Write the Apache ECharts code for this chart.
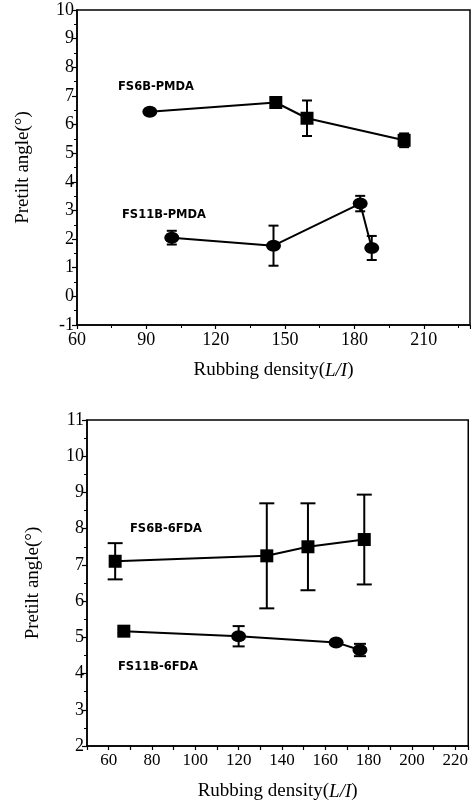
<!DOCTYPE html>
<html>
<head>
<meta charset="utf-8">
<script src="https://cdn.jsdelivr.net/npm/echarts@6/dist/echarts.min.js"></script>
<style>
  html, body { margin: 0; padding: 0; background: #fff; }
  #chart { width: 471px; height: 804px; }
</style>
</head>
<body>
<div id="chart"></div>
<script>
// Rubbing density (L/I) vs pretilt angle (deg), with standard deviation
const pmdaYTicks = [-1, 0, 1, 2, 3, 4, 5, 6, 7, 8, 9, 10];
const pmdaXTicks = [60, 90, 120, 150, 180, 210];
const fdaYTicks = [2, 3, 4, 5, 6, 7, 8, 9, 10, 11];
const fdaXTicks = [60, 80, 100, 120, 140, 160, 180, 200, 220];

const fs6bPmdaX = [91.5, 146, 159.5, 201.5];
const fs6bPmdaY = [6.45, 6.77, 6.22, 5.45];
const fs6bPmdaErr = [0.1, 0.15, 0.62, 0.24];

const fs11bPmdaX = [101, 145, 182.5, 187.5];
const fs11bPmdaY = [2.05, 1.77, 3.24, 1.69];
const fs11bPmdaErr = [0.24, 0.7, 0.27, 0.42];

const fs6bFdaX = [63, 133, 152, 178];
const fs6bFdaY = [7.1, 7.25, 7.5, 7.7];
const fs6bFdaErr = [0.5, 1.45, 1.2, 1.24];

const fs11bFdaX = [67, 120, 165, 176];
const fs11bFdaY = [5.17, 5.03, 4.86, 4.65];
const fs11bFdaErr = [0.05, 0.28, 0.05, 0.17];

const serif = '"Liberation Serif", "Times New Roman", serif';

function points(xs, ys) { return xs.map((x, i) => [x, ys[i]]); }
function errData(xs, ys, es) { return xs.map((x, i) => [x, ys[i], es[i]]); }

function errorBars(gridIdx, data, cap) {
  return {
    type: 'custom',
    xAxisIndex: gridIdx, yAxisIndex: gridIdx,
    data: data,
    encode: { x: 0, y: 1 },
    z: 2,
    silent: true,
    renderItem: function (params, api) {
      const x = api.value(0), y = api.value(1), e = api.value(2);
      const hi = api.coord([x, y + e]);
      const lo = api.coord([x, y - e]);
      const st = { stroke: '#000', lineWidth: 2 };
      return {
        type: 'group',
        children: [
          { type: 'line', shape: { x1: hi[0], y1: hi[1], x2: lo[0], y2: lo[1] }, style: st },
          { type: 'line', shape: { x1: hi[0] - cap / 2, y1: hi[1], x2: hi[0] + cap / 2, y2: hi[1] }, style: st },
          { type: 'line', shape: { x1: lo[0] - cap / 2, y1: lo[1], x2: lo[0] + cap / 2, y2: lo[1] }, style: st }
        ]
      };
    }
  };
}

function lineSeries(gridIdx, data, symbols) {
  return {
    type: 'line',
    xAxisIndex: gridIdx, yAxisIndex: gridIdx,
    data: data.map((d, i) => ({
      value: d,
      symbol: symbols[i] === 'sq' ? 'rect' : 'circle',
      symbolSize: symbols[i] === 'sq' ? 13 : [15, 12]
    })),
    showSymbol: true,
    z: 3,
    lineStyle: { color: '#000', width: 2 },
    itemStyle: { color: '#000', borderWidth: 0 },
    silent: true,
    animation: false
  };
}

function xAxisCfg(gridIdx, min, max, interval, ticks, fontSize) {
  return {
    type: 'value', gridIndex: gridIdx, min: min, max: max, interval: interval,
    name: '{n|Rubbing density(}{i|L/I}{n|)}',
    nameLocation: 'middle', nameGap: 36,
    nameTextStyle: {
      rich: {
        n: { fontFamily: serif, fontSize: 19, color: '#000' },
        i: { fontFamily: serif, fontSize: 19, fontStyle: 'italic', color: '#000' }
      }
    },
    axisLine: { show: true, onZero: false, lineStyle: { color: '#000', width: 1.5 } },
    axisTick: { show: true, inside: false, length: 4, lineStyle: { color: '#000', width: 1.2 } },
    minorTick: { show: interval > 10, splitNumber: 2, length: 3, lineStyle: { color: '#000', width: 1 } },
    splitLine: { show: false },
    axisLabel: {
      fontFamily: serif, fontSize: fontSize, color: '#000', margin: 6,
      customValues: ticks
    }
  };
}

function yAxisCfg(gridIdx, min, max, gap) {
  return {
    type: 'value', gridIndex: gridIdx, min: min, max: max, interval: 1,
    name: 'Pretilt angle(°)',
    nameLocation: 'middle', nameRotate: 90, nameGap: gap,
    nameTextStyle: { fontFamily: serif, fontSize: 19, color: '#000' },
    axisLine: { show: true, onZero: false, lineStyle: { color: '#000', width: 1.5 } },
    axisTick: { show: true, inside: false, length: 5, lineStyle: { color: '#000', width: 1.2 } },
    minorTick: { show: true, splitNumber: 2, length: 3, lineStyle: { color: '#000', width: 1 } },
    splitLine: { show: false },
    axisLabel: { fontFamily: serif, fontSize: 18, color: '#000', margin: 3 }
  };
}

const labelFont = 'bold 11.5px "DejaVu Sans", Arial, sans-serif';

const chart = echarts.init(document.getElementById('chart'), null, { renderer: 'canvas' });
chart.setOption({
  backgroundColor: '#fff',
  animation: false,
  grid: [
    { left: 77, top: 10, width: 393, height: 315, show: true, borderColor: '#000', borderWidth: 1.5, backgroundColor: 'transparent' },
    { left: 87, top: 420, width: 382, height: 326, show: true, borderColor: '#000', borderWidth: 1.5, backgroundColor: 'transparent' }
  ],
  xAxis: [
    xAxisCfg(0, pmdaXTicks[0], 230, 30, pmdaXTicks, 18),
    xAxisCfg(1, 50, 226, 10, fdaXTicks, 17)
  ],
  yAxis: [
    yAxisCfg(0, pmdaYTicks[0], pmdaYTicks[pmdaYTicks.length - 1], 44),
    yAxisCfg(1, fdaYTicks[0], fdaYTicks[fdaYTicks.length - 1], 44)
  ],
  series: [
    errorBars(0, errData(fs6bPmdaX, fs6bPmdaY, fs6bPmdaErr), 10),
    errorBars(0, errData(fs11bPmdaX, fs11bPmdaY, fs11bPmdaErr), 10),
    errorBars(1, errData(fs6bFdaX, fs6bFdaY, fs6bFdaErr), 15),
    errorBars(1, errData(fs11bFdaX, fs11bFdaY, fs11bFdaErr), 12),
    lineSeries(0, points(fs6bPmdaX, fs6bPmdaY), ['ci', 'sq', 'sq', 'sq']),
    lineSeries(0, points(fs11bPmdaX, fs11bPmdaY), ['ci', 'ci', 'ci', 'ci']),
    lineSeries(1, points(fs6bFdaX, fs6bFdaY), ['sq', 'sq', 'sq', 'sq']),
    lineSeries(1, points(fs11bFdaX, fs11bFdaY), ['sq', 'ci', 'ci', 'ci'])
  ],
  graphic: [
    { type: 'text', left: 118, top: 81, style: { text: 'FS6B-PMDA', font: labelFont, fill: '#000' } },
    { type: 'text', left: 122, top: 209, style: { text: 'FS11B-PMDA', font: labelFont, fill: '#000' } },
    { type: 'text', left: 130, top: 523, style: { text: 'FS6B-6FDA', font: labelFont, fill: '#000' } },
    { type: 'text', left: 118, top: 661, style: { text: 'FS11B-6FDA', font: labelFont, fill: '#000' } }
  ]
});
</script>
</body>
</html>
